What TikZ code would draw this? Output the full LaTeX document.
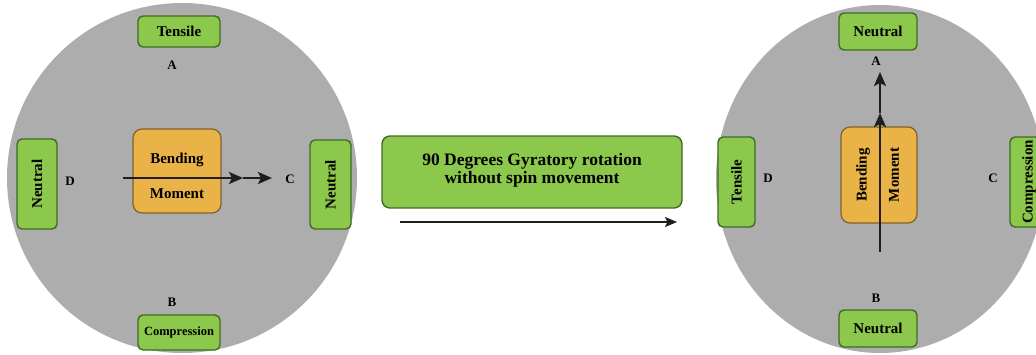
\documentclass[tikz,border=0pt]{standalone}
\usepackage{fontspec}
\setmainfont{Liberation Serif}
\usetikzlibrary{arrows.meta}
\definecolor{circgray}{HTML}{ADADAD}
\definecolor{boxgreen}{HTML}{8CC84B}
\definecolor{boxgreenline}{HTML}{3F6B25}
\definecolor{boxorange}{HTML}{E9B347}
\definecolor{boxorangeline}{HTML}{80622A}
\definecolor{arrowdark}{HTML}{1E1E1E}
\tikzset{
  gbox/.style={draw=boxgreenline, fill=boxgreen, line width=1.4pt, rounded corners=5pt,
    inner sep=0pt, font=\bfseries\fontsize{15}{16}\selectfont, align=center},
  obox/.style={draw=boxorangeline, fill=boxorange, line width=1.2pt, rounded corners=9pt,
    inner sep=0pt},
  otext/.style={font=\bfseries\fontsize{15}{16}\selectfont, align=center, inner sep=0pt},
  lbl/.style={font=\bfseries\fontsize{13}{15}\selectfont, inner sep=0pt},
  marr/.style={draw=arrowdark, line width=2.4pt, -{Stealth[length=14pt,width=12pt,inset=3pt]}},
}
\begin{document}
\begin{tikzpicture}[x=1pt,y=-1pt]
\useasboundingbox (0,0) rectangle (1036,354);
\clip (0,0) rectangle (1036,354);
% ---------- left disc ----------
\fill[circgray] (182,178) circle[radius=175];
\node[gbox, minimum width=82pt, minimum height=31pt] (lTen) at (179,31.5) {Tensile};
\node[gbox, minimum width=82pt, minimum height=35pt, font=\bfseries\fontsize{12.5}{14}\selectfont] (lCom) at (179,332.5) {Compression};
\node[gbox, rotate=90, minimum width=90pt, minimum height=40pt] (lNeuL) at (37,184) {Neutral};
\node[gbox, rotate=90, minimum width=89pt, minimum height=41pt] (lNeuR) at (330.5,184.5) {Neutral};
\node[lbl] (lA) at (172,65) {A};
\node[lbl] (lB) at (172,302) {B};
\node[lbl] (lC) at (290,179) {C};
\node[lbl] (lD) at (70,181) {D};
\node[obox, minimum width=88pt, minimum height=84pt] (lBM) at (177,171) {};
\node[otext] (lBMt1) at (177,160) {Bending};
\node[otext] (lBMt2) at (177,194) {Moment};
\coordinate (lS) at (123,178);
\coordinate (lM) at (243,178);
\coordinate (lE) at (272,178);
\draw[marr] (lS) -- (lM);
\draw[marr] (lM) -- (lE);
% ---------- middle ----------
\node[gbox, rounded corners=8pt, minimum width=300pt, minimum height=72pt,
  font=\bfseries\fontsize{17.5}{19}\selectfont] (mid) at (532,172)
  {\raisebox{8pt}{\shortstack{90 Degrees Gyratory rotation\\[-1pt]without spin movement}}};
\coordinate (mS) at (400,222);
\coordinate (mE) at (677,222);
\draw[draw=arrowdark, line width=1.8pt, -{Stealth[length=12pt,width=10pt,inset=2.5pt]}] (mS) -- (mE);
% ---------- right disc ----------
\fill[circgray] (880,179) ellipse[x radius=164, y radius=174];
\node[gbox, minimum width=78pt, minimum height=37pt] (rNeuT) at (878,31.5) {Neutral};
\node[gbox, minimum width=78pt, minimum height=37pt] (rNeuB) at (878,328.5) {Neutral};
\node[gbox, rotate=90, minimum width=90pt, minimum height=37pt] (rTen) at (736.5,182) {Tensile};
\node[gbox, rotate=90, minimum width=90pt, minimum height=38pt] (rCom) at (1029,182) {Compression};
\node[lbl] (rA) at (876,61) {A};
\node[lbl] (rB) at (876,298) {B};
\node[lbl] (rC) at (993,178) {C};
\node[lbl] (rD) at (768,178) {D};
\node[obox, rotate=90, minimum width=96pt, minimum height=76pt] (rBM) at (879,175) {};
\node[otext, rotate=90] (rBMt1) at (863,175) {Bending};
\node[otext, rotate=90] (rBMt2) at (894,175) {Moment};
\coordinate (rS) at (880,252);
\coordinate (rM) at (880,113);
\coordinate (rE) at (880,72);
\draw[marr] (rS) -- (rM);
\draw[marr] (rM) -- (rE);
\end{tikzpicture}
\end{document}
